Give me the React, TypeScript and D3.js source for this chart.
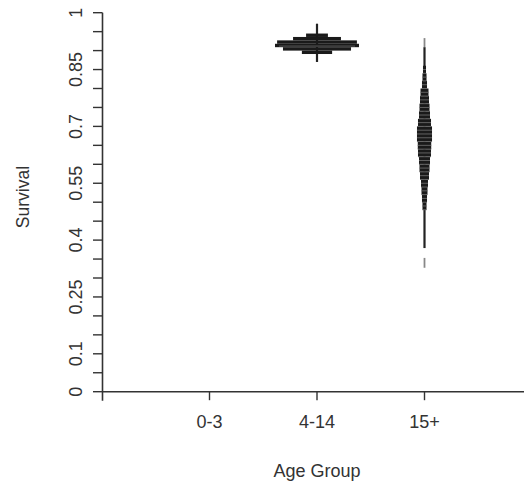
import React from "react";
import * as d3 from "d3";

const categories = ["0-3", "4-14", "15+"];
const yTickValues = [0, 0.05, 0.1, 0.15, 0.2, 0.25, 0.3, 0.35, 0.4, 0.45, 0.5, 0.55, 0.6, 0.65, 0.7, 0.75, 0.8, 0.85, 0.9, 0.95, 1];
const yTickLabels = [0, 0.1, 0.25, 0.4, 0.55, 0.7, 0.85, 1];

// 4-14 bean
const edges414 = [0.891, 0.9, 0.909, 0.918, 0.927, 0.936, 0.945];
const density414 = [3.6, 8.1, 10, 9.5, 5.7, 2.6];
const range414 = [0.87, 0.971];
const median414 = 0.912;

// 15+ bean
const edges15 = [0.48, 0.5, 0.52, 0.54, 0.56, 0.58, 0.6, 0.62, 0.64, 0.66, 0.68, 0.7, 0.72, 0.74, 0.76, 0.78, 0.8, 0.82, 0.84, 0.86];
const density15 = [0.48, 0.6, 0.71, 0.83, 1.07, 1.19, 1.31, 1.55, 1.6, 1.79, 1.79, 1.55, 1.31, 1.19, 1.07, 0.95, 0.6, 0.48, 0.36];
const range15 = [0.379, 0.909];
const extremes15 = [[0.327, 0.353], [0.909, 0.933]];

const W = 524;
const H = 484;
const FONT = "'Liberation Sans', Arial, sans-serif";

export default function App() {
  const x = d3.scaleLinear().domain([0, 4]).range([102, 532]);
  const y = d3.scaleLinear().domain([0, 1]).range([391.7, 12.7]);
  const w = d3.scaleLinear().domain([0, 10]).range([0, 42]);
  const axisColor = "#333";
  const textColor = "#333";

  const beans = [
    { cat: "4-14", edges: edges414, dens: density414, range: range414, stripes: false, median: median414, extremes: [] as number[][] },
    { cat: "15+", edges: edges15, dens: density15, range: range15, stripes: true, median: null as number | null, extremes: extremes15 },
  ];

  return (
    <svg width={W} height={H} style={{ position: "absolute", left: 0, top: 0, background: "#fff" }}>
      {/* y axis */}
      <line x1={102.5} x2={102.5} y1={y(1)} y2={y(0) + 9} stroke={axisColor} strokeWidth={1.6} />
      {yTickValues.map((v) => (
        <line key={"yt" + v} x1={93} x2={102.5} y1={y(v)} y2={y(v)} stroke={axisColor} strokeWidth={1.4} />
      ))}
      {yTickLabels.map((v) => (
        <text
          key={"yl" + v}
          transform={`translate(82,${y(v)}) rotate(-90)`}
          textAnchor="middle"
          fontFamily={FONT}
          fontSize={18}
          fill={textColor}
        >
          {String(v)}
        </text>
      ))}
      <text transform={`translate(28.5,197) rotate(-90)`} textAnchor="middle" fontFamily={FONT} fontSize={17.5} fill={textColor}>
        Survival
      </text>

      {/* x axis */}
      <line x1={102.5} x2={W} y1={y(0)} y2={y(0)} stroke={axisColor} strokeWidth={1.6} />
      {categories.map((c, i) => (
        <g key={c}>
          <line x1={x(i + 1)} x2={x(i + 1)} y1={y(0)} y2={y(0) + 8.5} stroke={axisColor} strokeWidth={1.4} />
          <text x={x(i + 1)} y={427.5} textAnchor="middle" fontFamily={FONT} fontSize={18} fill={textColor}>
            {c}
          </text>
        </g>
      ))}
      <text x={x(2)} y={477} textAnchor="middle" fontFamily={FONT} fontSize={18} fill={textColor}>
        Age Group
      </text>

      {/* beans */}
      {beans.map((b) => {
        const cx = x(categories.indexOf(b.cat) + 1);
        return (
          <g key={b.cat}>
            {b.extremes.map((e, k) => (
              <line key={"ex" + k} x1={cx} x2={cx} y1={y(e[0])} y2={y(e[1])} stroke="#888" strokeWidth={1.8} />
            ))}
            <line x1={cx} x2={cx} y1={y(b.range[0])} y2={y(b.range[1])} stroke="#222" strokeWidth={2.2} />
            {b.dens.map((d, k) => {
              const y0 = y(b.edges[k]);
              const y1 = y(b.edges[k + 1]);
              const hw = w(d);
              return (
                <rect key={"r" + k} x={cx - hw} y={y1} width={hw * 2} height={y0 - y1} fill="#1a1a1a" />
              );
            })}
            {b.stripes &&
              b.dens.map((d, k) => {
                const hw = w(d);
                const ym = (y(b.edges[k]) + y(b.edges[k + 1])) / 2;
                const ye = y(b.edges[k]);
                return (
                  <g key={"s" + k}>
                    <line x1={cx - hw} x2={cx + hw} y1={ym} y2={ym} stroke="#6a6a6a" strokeWidth={0.9} />
                    <line x1={cx - hw} x2={cx + hw} y1={ye} y2={ye} stroke="#6a6a6a" strokeWidth={0.9} />
                  </g>
                );
              })}
            {b.median !== null && (
              <line
                x1={cx - w(d3.max(b.dens) as number) + 4}
                x2={cx + w(d3.max(b.dens) as number) - 4}
                y1={y(b.median)}
                y2={y(b.median)}
                stroke="#5a5a5a"
                strokeWidth={1}
              />
            )}
          </g>
        );
      })}
    </svg>
  );
}
